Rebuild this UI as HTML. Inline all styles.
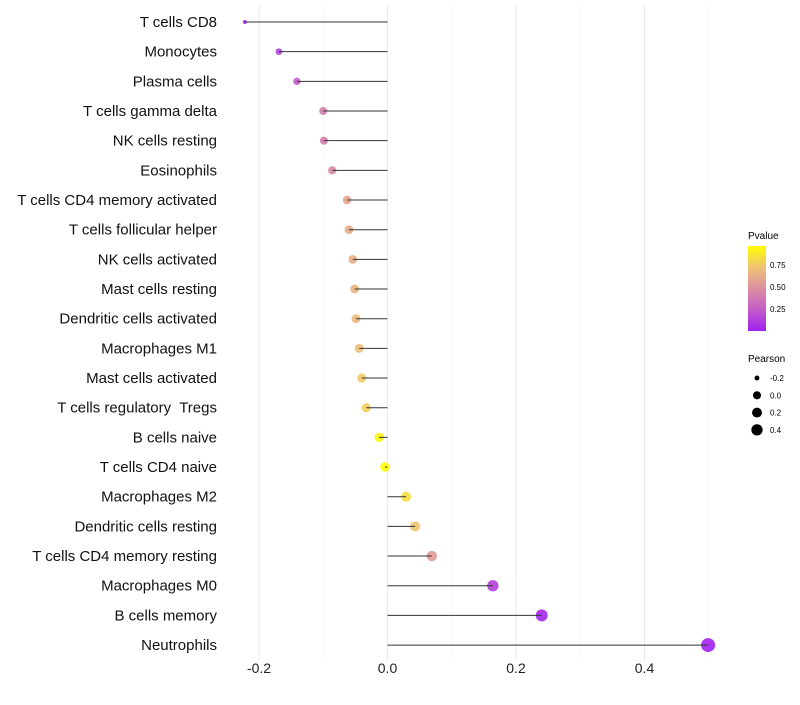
<!DOCTYPE html>
<html><head><meta charset="utf-8"><style>
body{margin:0;background:#fff;}
svg{font-family:"Liberation Sans",sans-serif;}
text{white-space:pre;}
</style></head><body>
<svg id="chart" width="800" height="700" xmlns="http://www.w3.org/2000/svg">
<defs><linearGradient id="pg" x1="0" y1="1" x2="0" y2="0">
<stop offset="0" stop-color="#a020f0"/><stop offset="0.25" stop-color="#c35cc9"/><stop offset="0.5" stop-color="#dc8fa0"/><stop offset="0.75" stop-color="#efc274"/><stop offset="1" stop-color="#ffff00"/>
</linearGradient></defs>
<g id="grid"></g><g id="points"></g><g id="marks"></g><g id="labels"></g>
<g>
<text x="748" y="239" font-size="10" fill="#000">Pvalue</text>
<rect x="748" y="246" width="18" height="85" fill="url(#pg)"/>
<text x="770" y="268" font-size="8">0.75</text>
<text x="770" y="290" font-size="8">0.50</text>
<text x="770" y="312" font-size="8">0.25</text>
</g>
<g id="sizeleg">
<text x="748" y="362" font-size="10">Pearson</text>
</g>
</svg>
<script>
const categories=["T cells CD8","Monocytes","Plasma cells","T cells gamma delta","NK cells resting","Eosinophils","T cells CD4 memory activated","T cells follicular helper","NK cells activated","Mast cells resting","Dendritic cells activated","Macrophages M1","Mast cells activated","T cells regulatory  Tregs","B cells naive","T cells CD4 naive","Macrophages M2","Dendritic cells resting","T cells CD4 memory resting","Macrophages M0","B cells memory","Neutrophils"];
const pearson=[-0.222,-0.169,-0.141,-0.100,-0.099,-0.086,-0.063,-0.060,-0.054,-0.051,-0.049,-0.044,-0.040,-0.033,-0.013,-0.004,0.029,0.043,0.069,0.164,0.240,0.499];
const pvalue=[0.03,0.15,0.25,0.42,0.42,0.47,0.6,0.63,0.66,0.68,0.7,0.73,0.78,0.8,0.96,0.99,0.86,0.76,0.56,0.12,0.03,0.01];
const xTicks=[-0.2,0,0.2,0.4];
const xMinor=[-0.1,0.1,0.3,0.5];
const sizeLegend=[-0.2,0,0.2,0.4];
const NS="http://www.w3.org/2000/svg";
function xs(v){return 387.5+v*642.5;}
function ys(i){return 22+i*29.67;}
function rs(v){const f=Math.max(0,(v+0.222)/0.721);return 2+Math.sqrt(f)*5;}
const stops=[[0,[160,32,240]],[0.25,[195,92,201]],[0.5,[220,143,160]],[0.75,[239,194,116]],[1,[255,255,0]]];
function col(p){for(let k=0;k<stops.length-1;k++){const a=stops[k],b=stops[k+1];if(p<=b[0]){const t=(p-a[0])/(b[0]-a[0]);return "rgb("+a[1].map((c,j)=>Math.round(c+(b[1][j]-c)*t)).join(",")+")";}}return "rgb(255,255,0)";}
function mk(tag,at,parent){const e=document.createElementNS(NS,tag);for(const k in at)e.setAttribute(k,at[k]);parent.appendChild(e);return e;}
const grid=document.getElementById("grid"),marks=document.getElementById("marks"),pts=document.getElementById("points"),labels=document.getElementById("labels");
xMinor.forEach(v=>{const l=mk("line",{x1:xs(v),x2:xs(v),y1:5,y2:660,stroke:"#f3f3f3","stroke-width":0.7},grid);

});
xTicks.forEach(v=>{const l=mk("line",{x1:xs(v),x2:xs(v),y1:5,y2:660,stroke:"#e8e8e8","stroke-width":1},grid);


const t=mk("text",{x:xs(v),y:673,"font-size":14,"text-anchor":"middle",fill:"#222"},labels);
t.textContent=v.toFixed(1);

});
categories.forEach((c,i)=>{const y=ys(i);
const t=mk("text",{x:217,y:y+5,"font-size":15,"text-anchor":"end",fill:"#111"},labels);
t.textContent=c;


const p=mk("circle",{cx:xs(pearson[i]),cy:y,r:rs(pearson[i]),fill:col(pvalue[i]),"fill-opacity":0.9},pts);


const s=mk("line",{x1:xs(0),x2:xs(pearson[i]),y1:y,y2:y,stroke:"#333","stroke-width":1},marks);

});
const sl=document.getElementById("sizeleg");
sizeLegend.forEach((v,k)=>{const y=378+k*17.3;
const c=mk("circle",{cx:757,cy:y,r:rs(v)*0.85,fill:"#000"},sl);


const t=mk("text",{x:770,y:y+3,"font-size":8},sl);
t.textContent=v.toFixed(1);

});
</script>
</body></html>
